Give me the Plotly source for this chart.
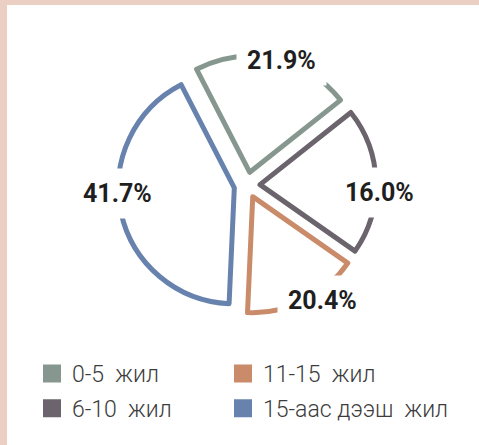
import math
import plotly.graph_objects as go

# ---- data ----
categories = ["0-5  жил", "6-10  жил", "11-15  жил", "15-аас дээш  жил"]
slice_values = [21.9, 20.4, 16.0, 41.7]          # slice sizes as drawn
slice_labels = ["21.9%", "16.0%", "20.4%", "41.7%"]  # labels as printed
colors = ["#86978F", "#6B646C", "#C98B69", "#6882AE"]

# ---- layout constants ----
W, H = 479, 445
CX, CY = 247, 185          # pie centre (px)
R = 116                    # pie radius (px)
PULL = 0.112
ROT = -27.3
HALF = R * (1 + PULL)
label_nudge = [(7, 2), (4, 11), (19, 0), (-3, -19)]

fig = go.Figure()

fig.add_trace(go.Pie(
    labels=categories,
    values=slice_values,
    sort=False,
    direction="clockwise",
    rotation=ROT,
    pull=[PULL] * len(slice_values),
    marker=dict(colors=["white"] * len(slice_values),
                line=dict(color=colors, width=5)),
    textinfo="none",
    hoverinfo="skip",
    showlegend=False,
    domain=dict(x=[(CX - HALF) / W, (CX + HALF) / W],
                y=[1 - (CY + HALF) / H, 1 - (CY - HALF) / H]),
))

# legend entries (two columns)
half = (len(categories) + 1) // 2
for i, (cat, col) in enumerate(zip(categories, colors)):
    fig.add_trace(go.Scatter(
        x=[None], y=[None], mode="markers", name=cat,
        marker=dict(symbol="square", size=16, color=col,
                    line=dict(color=col, width=2)),
        legend="legend" if i < half else "legend2",
        legendgroup=cat, showlegend=True, hoverinfo="skip",
    ))

# percentage labels at slice arc midpoints
total = sum(slice_values)
cum = 0.0
annotations = []
for i, (v, txt) in enumerate(zip(slice_values, slice_labels)):
    mid = math.radians(ROT + (cum + v / 2) / total * 360)
    cum += v
    pcx = CX + PULL * R * math.sin(mid)
    pcy = CY - PULL * R * math.cos(mid)
    px = pcx + R * math.sin(mid) + label_nudge[i][0]
    py = pcy - R * math.cos(mid) + label_nudge[i][1]
    annotations.append(dict(
        x=px / W, y=1 - py / H, xref="paper", yref="paper",
        xanchor="center", yanchor="middle",
        text=txt, showarrow=False, bgcolor="white", borderpad=10,
        font=dict(family="Roboto", size=25, color="#1F1F1F", weight="bold"),
    ))

legend_common = dict(
    orientation="v", xanchor="left", yanchor="top",
    bgcolor="rgba(0,0,0,0)", borderwidth=0, tracegroupgap=2,
    traceorder="grouped",
    font=dict(family="Roboto", size=23, color="#3C3C3C", weight=300),
)

fig.update_layout(
    width=W, height=H,
    margin=dict(l=0, r=0, t=0, b=0),
    paper_bgcolor="#EBCFC3",
    plot_bgcolor="rgba(0,0,0,0)",
    xaxis=dict(visible=False), yaxis=dict(visible=False),
    shapes=[dict(type="rect", xref="paper", yref="paper",
                 x0=7 / W, x1=1.0, y0=0.0, y1=1 - 5 / H,
                 fillcolor="white", line=dict(width=0), layer="below")],
    annotations=annotations,
    legend=dict(x=32 / W, y=1 - 352 / H, **legend_common),
    legend2=dict(x=223 / W, y=1 - 352 / H, **legend_common),
    hovermode=False,
)

fig.write_html(
    "out.html",
    config={"displayModeBar": False},
    post_script=(
        "document.body.style.margin='0';"
        "document.body.style.overflow='hidden';"
        "var s=document.createElement('style');"
        "s.textContent='path.surface{stroke-linejoin:round;}';"
        "document.head.appendChild(s);"
    ),
)
